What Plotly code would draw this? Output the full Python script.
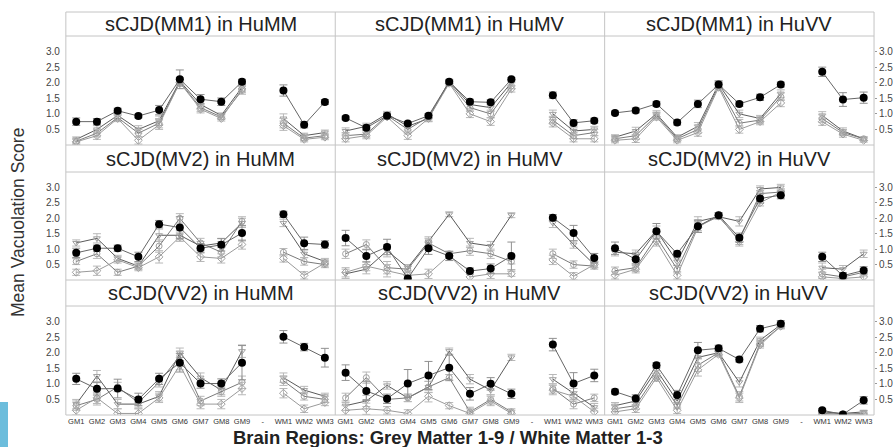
import plotly.graph_objects as go

W, H = 893, 447

categories = ["GM1", "GM2", "GM3", "GM4", "GM5", "GM6", "GM7", "GM8", "GM9", "-", "WM1", "WM2", "WM3"]
ytick_vals = [0.5, 1.0, 1.5, 2.0, 2.5, 3.0]
ytick_text = ["0.5", "1.0", "1.5", "2.0", "2.5", "3.0"]

panel_titles = [
    "sCJD(MM1) in HuMM", "sCJD(MM1) in HuMV", "sCJD(MM1) in HuVV",
    "sCJD(MV2) in HuMM", "sCJD(MV2) in HuMV", "sCJD(MV2) in HuVV",
    "sCJD(VV2) in HuMM", "sCJD(VV2) in HuMV", "sCJD(VV2) in HuVV",
]

# values: GM1..GM9, WM1..WM3
mm1_humm_black = [0.75, 0.75, 1.10, 0.93, 1.12, 2.11, 1.47, 1.39, 2.03, 1.75, 0.65, 1.38]
mm1_humm_g1 = [0.18, 0.50, 0.95, 0.50, 0.78, 2.05, 1.30, 0.95, 1.85, 0.85, 0.30, 0.40]
mm1_humm_g2 = [0.12, 0.38, 0.88, 0.38, 0.70, 2.02, 1.20, 0.90, 1.75, 0.70, 0.22, 0.30]
mm1_humm_g3 = [0.10, 0.30, 0.85, 0.15, 0.65, 2.00, 1.15, 0.85, 1.80, 0.62, 0.18, 0.25]
mm1_humm_err = [0.12, 0.10, 0.08, 0.06, 0.15, 0.30, 0.15, 0.12, 0.08, 0.18, 0.10, 0.08]
mm1_humm_gerr = [0.08, 0.12, 0.10, 0.12, 0.15, 0.12, 0.12, 0.08, 0.12, 0.15, 0.08, 0.08]

mm1_humv_black = [0.87, 0.55, 0.94, 0.69, 0.94, 2.03, 1.39, 1.37, 2.11, 1.60, 0.71, 0.78]
mm1_humv_g1 = [0.45, 0.60, 1.00, 0.60, 0.85, 2.05, 1.30, 1.20, 2.00, 1.00, 0.45, 0.50]
mm1_humv_g2 = [0.30, 0.35, 0.95, 0.50, 0.90, 2.00, 1.20, 1.00, 1.90, 0.80, 0.30, 0.40]
mm1_humv_g3 = [0.20, 0.30, 0.90, 0.30, 0.85, 1.98, 1.00, 0.75, 1.80, 0.70, 0.20, 0.20]
mm1_humv_err = [0.06, 0.08, 0.06, 0.06, 0.06, 0.05, 0.08, 0.08, 0.05, 0.10, 0.10, 0.08]
mm1_humv_gerr = [0.10, 0.10, 0.08, 0.12, 0.10, 0.06, 0.12, 0.12, 0.10, 0.12, 0.10, 0.10]

mm1_huvv_black = [1.03, 1.11, 1.32, 0.72, 1.32, 1.94, 1.32, 1.53, 1.94, 2.35, 1.46, 1.52]
mm1_huvv_g1 = [0.25, 0.45, 1.00, 0.25, 0.60, 1.95, 1.00, 0.85, 1.65, 0.95, 0.45, 0.20]
mm1_huvv_g2 = [0.20, 0.30, 0.95, 0.20, 0.50, 1.90, 0.70, 0.80, 1.55, 0.85, 0.40, 0.20]
mm1_huvv_g3 = [0.15, 0.20, 0.90, 0.15, 0.40, 1.85, 0.50, 0.75, 1.35, 0.75, 0.35, 0.15]
mm1_huvv_err = [0.06, 0.08, 0.08, 0.08, 0.12, 0.12, 0.08, 0.10, 0.08, 0.15, 0.22, 0.18]
mm1_huvv_gerr = [0.08, 0.12, 0.10, 0.08, 0.12, 0.10, 0.12, 0.10, 0.12, 0.12, 0.10, 0.06]

mv2_humm_black = [0.88, 1.03, 1.03, 0.75, 1.81, 1.70, 1.03, 1.14, 1.52, 2.13, 1.19, 1.15]
mv2_humm_g1 = [1.20, 1.35, 0.70, 0.45, 1.45, 1.45, 1.10, 1.20, 1.85, 1.85, 0.85, 0.60]
mv2_humm_g2 = [0.60, 0.85, 0.25, 0.45, 1.10, 2.00, 1.20, 0.90, 1.90, 0.90, 0.60, 0.50]
mv2_humm_g3 = [0.25, 0.30, 0.65, 0.40, 0.75, 1.40, 0.75, 0.70, 1.15, 0.70, 0.15, 0.55]
mv2_humm_err = [0.15, 0.10, 0.10, 0.15, 0.12, 0.35, 0.15, 0.20, 0.25, 0.10, 0.20, 0.12]
mv2_humm_gerr = [0.10, 0.15, 0.10, 0.10, 0.20, 0.15, 0.15, 0.15, 0.15, 0.12, 0.12, 0.10]

mv2_humv_black = [1.36, 0.78, 1.07, 0.05, 1.03, 0.78, 0.29, 0.37, 0.78, 2.02, 1.52, 0.71]
mv2_humv_g1 = [0.20, 0.35, 0.95, 0.40, 1.25, 2.13, 1.20, 1.10, 2.10, 1.85, 1.15, 0.50]
mv2_humv_g2 = [0.85, 1.15, 0.40, 0.35, 1.20, 0.85, 0.95, 0.85, 0.60, 0.85, 0.50, 0.45]
mv2_humv_g3 = [0.25, 0.45, 0.30, 0.15, 0.20, 0.80, 0.10, 0.20, 0.20, 0.65, 0.12, 0.50]
mv2_humv_err = [0.25, 0.20, 0.25, 0.10, 0.20, 0.15, 0.10, 0.15, 0.45, 0.10, 0.25, 0.15]
mv2_humv_gerr = [0.15, 0.15, 0.20, 0.10, 0.15, 0.08, 0.15, 0.15, 0.08, 0.15, 0.12, 0.10]

mv2_huvv_black = [1.03, 0.67, 1.58, 0.85, 1.74, 2.10, 1.37, 2.64, 2.75, 0.75, 0.14, 0.31]
mv2_huvv_g1 = [0.90, 0.85, 1.60, 0.60, 1.90, 2.05, 1.90, 2.95, 3.00, 0.40, 0.35, 0.85]
mv2_huvv_g2 = [0.30, 0.40, 1.40, 0.35, 1.75, 2.05, 1.30, 2.80, 2.85, 0.20, 0.10, 0.25]
mv2_huvv_g3 = [0.15, 0.35, 1.25, 0.15, 1.70, 2.10, 1.25, 2.50, 2.85, 0.10, 0.05, 0.10]
mv2_huvv_err = [0.20, 0.15, 0.25, 0.08, 0.20, 0.08, 0.15, 0.15, 0.12, 0.15, 0.10, 0.12]
mv2_huvv_gerr = [0.12, 0.12, 0.15, 0.12, 0.15, 0.08, 0.15, 0.10, 0.10, 0.15, 0.12, 0.12]

vv2_humm_black = [1.16, 0.84, 0.85, 0.50, 1.16, 1.68, 1.01, 1.01, 1.68, 2.51, 2.18, 1.84]
vv2_humm_g1 = [0.35, 1.25, 0.35, 0.35, 0.60, 2.00, 1.20, 0.80, 2.05, 1.20, 0.80, 0.60]
vv2_humm_g2 = [0.30, 0.50, 0.90, 0.40, 1.05, 1.90, 0.45, 0.75, 1.05, 1.10, 0.60, 0.50]
vv2_humm_g3 = [0.15, 0.55, 0.05, 0.05, 0.55, 1.60, 0.35, 0.35, 0.85, 0.70, 0.20, 0.40]
vv2_humm_err = [0.18, 0.20, 0.30, 0.20, 0.18, 0.30, 0.15, 0.15, 0.55, 0.20, 0.12, 0.30]
vv2_humm_gerr = [0.15, 0.18, 0.15, 0.15, 0.15, 0.15, 0.15, 0.15, 0.20, 0.15, 0.12, 0.10]

vv2_humv_black = [1.36, 0.77, 0.52, 1.01, 1.27, 1.52, 0.68, 1.00, 0.68, 2.26, 1.01, 1.27]
vv2_humv_g1 = [0.30, 0.45, 0.95, 0.55, 0.90, 2.05, 1.15, 0.80, 1.85, 1.15, 0.70, 0.25]
vv2_humv_g2 = [0.55, 1.20, 0.50, 0.55, 0.90, 1.20, 0.10, 0.50, 0.10, 0.85, 0.35, 0.55]
vv2_humv_g3 = [0.15, 0.20, 0.15, 0.05, 0.60, 0.30, 0.05, 0.45, 0.05, 0.80, 0.60, 0.10]
vv2_humv_err = [0.25, 0.30, 0.15, 0.45, 0.45, 0.40, 0.20, 0.20, 0.15, 0.20, 0.35, 0.20]
vv2_humv_gerr = [0.15, 0.18, 0.12, 0.12, 0.18, 0.10, 0.15, 0.15, 0.10, 0.15, 0.15, 0.12]

vv2_huvv_black = [0.75, 0.53, 1.60, 0.64, 2.08, 2.14, 1.78, 2.77, 2.93, 0.15, 0.02, 0.47]
vv2_huvv_g1 = [0.30, 0.45, 1.45, 0.45, 1.85, 2.00, 1.05, 2.40, 2.90, 0.10, 0.05, 0.10]
vv2_huvv_g2 = [0.20, 0.30, 1.30, 0.30, 1.60, 2.00, 0.60, 2.30, 2.85, 0.05, 0.03, 0.05]
vv2_huvv_g3 = [0.10, 0.20, 1.20, 0.15, 1.45, 1.95, 0.55, 2.25, 2.85, 0.03, 0.02, 0.02]
vv2_huvv_err = [0.08, 0.12, 0.08, 0.15, 0.25, 0.10, 0.08, 0.10, 0.10, 0.05, 0.03, 0.12]
vv2_huvv_gerr = [0.10, 0.12, 0.12, 0.10, 0.20, 0.08, 0.15, 0.10, 0.08, 0.05, 0.03, 0.05]

panels = [
    (mm1_humm_black, mm1_humm_g1, mm1_humm_g2, mm1_humm_g3, mm1_humm_err, mm1_humm_gerr),
    (mm1_humv_black, mm1_humv_g1, mm1_humv_g2, mm1_humv_g3, mm1_humv_err, mm1_humv_gerr),
    (mm1_huvv_black, mm1_huvv_g1, mm1_huvv_g2, mm1_huvv_g3, mm1_huvv_err, mm1_huvv_gerr),
    (mv2_humm_black, mv2_humm_g1, mv2_humm_g2, mv2_humm_g3, mv2_humm_err, mv2_humm_gerr),
    (mv2_humv_black, mv2_humv_g1, mv2_humv_g2, mv2_humv_g3, mv2_humv_err, mv2_humv_gerr),
    (mv2_huvv_black, mv2_huvv_g1, mv2_huvv_g2, mv2_huvv_g3, mv2_huvv_err, mv2_huvv_gerr),
    (vv2_humm_black, vv2_humm_g1, vv2_humm_g2, vv2_humm_g3, vv2_humm_err, vv2_humm_gerr),
    (vv2_humv_black, vv2_humv_g1, vv2_humv_g2, vv2_humv_g3, vv2_humv_err, vv2_humv_gerr),
    (vv2_huvv_black, vv2_huvv_g1, vv2_huvv_g2, vv2_huvv_g3, vv2_huvv_err, vv2_huvv_gerr),
]


def with_gap(vals):
    return list(vals[:9]) + [None] + list(vals[9:])


def px(x):
    return x / W


def py(y):
    return 1 - y / H


FONT = "Liberation Sans, Arial, sans-serif"
col_x = [(66, 336), (336, 606), (606, 876)]
row_plot = [(36, 145), (172, 280), (306, 415)]
row_title = [(12, 36), (145, 172), (280, 306)]

grey_styles = [
    dict(line="#5a5a5a", marker="triangle-down-open"),
    dict(line="#7a7a7a", marker="circle-open"),
    dict(line="#9a9a9a", marker="diamond-open"),
]

fig = go.Figure()
layout = dict()
annotations = []
shapes = []

for i, (blk, g1, g2, g3, err, gerr) in enumerate(panels):
    r, c = divmod(i, 3)
    n = i + 1
    xa = "x" if n == 1 else f"x{n}"
    ya = "y" if n == 1 else f"y{n}"
    for gv, st in zip((g1, g2, g3), grey_styles):
        fig.add_trace(go.Scatter(
            x=categories, y=with_gap(gv), xaxis=xa, yaxis=ya, mode="lines+markers",
            line=dict(color=st["line"], width=1),
            marker=dict(symbol=st["marker"], size=6, color="#a0a0a0", line=dict(width=1)),
            error_y=dict(type="data", array=with_gap(gerr), color="#b8b8b8", thickness=1, width=4),
            connectgaps=False, showlegend=False, hoverinfo="skip"))
    fig.add_trace(go.Scatter(
        x=categories, y=with_gap(blk), xaxis=xa, yaxis=ya, mode="lines+markers",
        line=dict(color="#666666", width=1),
        marker=dict(symbol="circle", size=8, color="#000000"),
        error_y=dict(type="data", array=with_gap(err), color="#909090", thickness=1, width=4),
        connectgaps=False, showlegend=False, hoverinfo="skip"))

    x0, x1 = col_x[c]
    y0, y1 = row_plot[r]
    kx = "xaxis" if n == 1 else f"xaxis{n}"
    ky = "yaxis" if n == 1 else f"yaxis{n}"
    layout[kx] = dict(
        domain=[px(x0), px(x1)], anchor=ya, type="category",
        categoryorder="array", categoryarray=categories, range=[-0.5, 12.5],
        showgrid=False, zeroline=False, showline=False, ticks="",
        showticklabels=(r == 2), tickfont=dict(size=7.5, color="#333", family=FONT),
        fixedrange=True)
    yd = dict(
        domain=[py(y1), py(y0)], anchor=xa, range=[0.0, 3.5],
        tickvals=ytick_vals, ticktext=ytick_text,
        showgrid=False, zeroline=False, showline=False,
        tickfont=dict(size=10, color="#444", family=FONT), fixedrange=True)
    if c == 0:
        yd.update(showticklabels=True, side="left", ticks="", ticklabelstandoff=5)
    elif c == 2:
        yd.update(showticklabels=True, side="right", ticks="outside", ticklen=2,
                  tickcolor="#999", ticklabelstandoff=0)
    else:
        yd.update(showticklabels=False, ticks="")
    layout[ky] = yd

    ty0, ty1 = row_title[r]
    annotations.append(dict(
        text=panel_titles[i], x=px((x0 + x1) / 2), y=py((ty0 + ty1) / 2),
        xref="paper", yref="paper", showarrow=False, xanchor="center", yanchor="middle",
        font=dict(size=20, color="#222", family=FONT)))

GRID = "#c4c4c4"
for xv in (66, 336, 606, 876):
    shapes.append(dict(type="line", xref="paper", yref="paper",
                       x0=px(xv), x1=px(xv), y0=py(12), y1=py(415),
                       line=dict(color=GRID, width=1)))
for yv in (12, 36, 145, 172, 280, 306, 415):
    shapes.append(dict(type="line", xref="paper", yref="paper",
                       x0=px(66), x1=px(876), y0=py(yv), y1=py(yv),
                       line=dict(color=GRID, width=1)))
shapes.append(dict(type="rect", xref="paper", yref="paper",
                   x0=0, x1=px(8), y0=0, y1=py(402),
                   fillcolor="#6cbddc", line=dict(width=0)))

annotations.append(dict(
    text="Mean Vacuolation Score", x=px(18), y=py(222), xref="paper", yref="paper",
    showarrow=False, textangle=-90, xanchor="center", yanchor="middle",
    font=dict(size=17.5, color="#333", family=FONT)))
annotations.append(dict(
    text="<b>Brain Regions: Grey Matter 1-9 / White Matter 1-3</b>",
    x=px(449), y=py(437), xref="paper", yref="paper", showarrow=False,
    xanchor="center", yanchor="middle",
    font=dict(size=18.5, color="#222", family=FONT)))

fig.update_layout(
    width=W, height=H, margin=dict(l=0, r=0, t=0, b=0),
    paper_bgcolor="white", plot_bgcolor="white",
    annotations=annotations, shapes=shapes, showlegend=False,
    font=dict(family=FONT),
    **layout)

fig.write_html(
    "out.html",
    config={"displayModeBar": False, "staticPlot": True},
    post_script="document.body.style.margin='0';document.body.style.padding='0';"
                "document.documentElement.style.overflow='hidden';")
